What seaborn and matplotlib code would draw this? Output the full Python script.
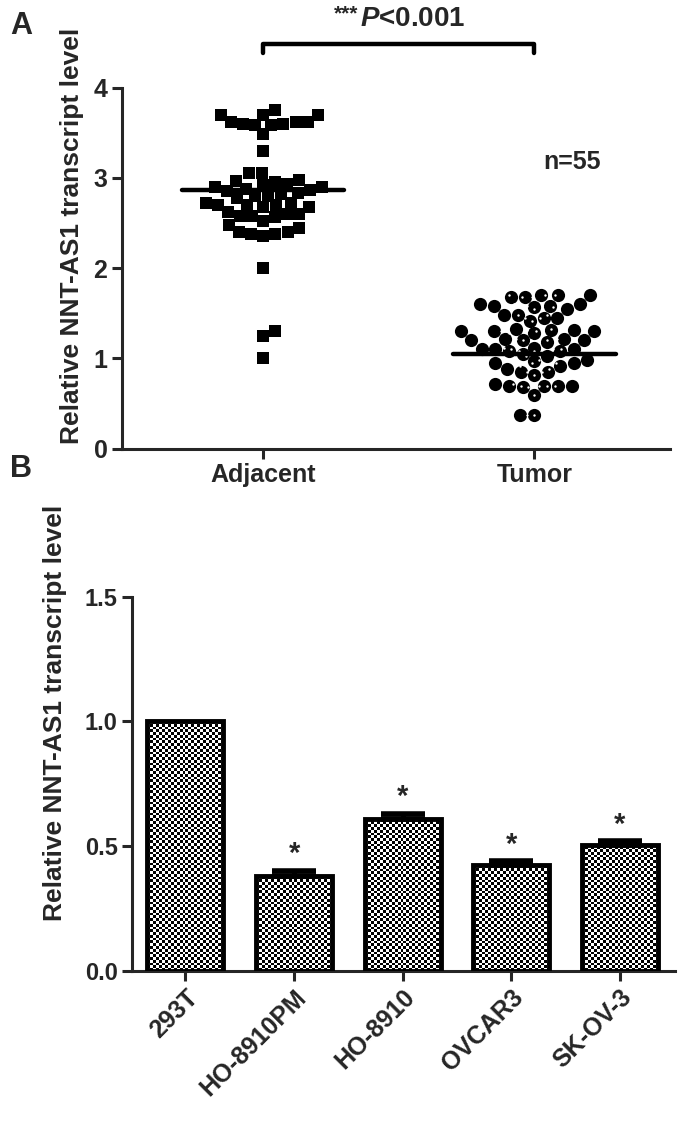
import numpy as np
import pandas as pd
import matplotlib
matplotlib.use("Agg")
import matplotlib.pyplot as plt
import seaborn as sns

# panel A: NNT-AS1 levels in tissue pairs (n=55 each)
adjacent = [3.75, 3.70, 3.70, 3.70, 3.62, 3.60, 3.58, 3.62, 3.58, 3.60, 3.62, 3.48, 3.30,
            3.05, 3.05, 2.98, 2.96, 2.95, 2.93, 2.92, 2.90, 2.90, 2.88, 2.87, 2.85, 2.83,
            2.82, 2.80, 2.80, 2.78, 2.72, 2.70, 2.70, 2.68, 2.70, 2.72, 2.68,
            2.60, 2.58, 2.60, 2.57, 2.62, 2.58, 2.48, 2.45, 2.40, 2.38, 2.40, 2.38, 2.36,
            2.00, 1.30, 1.25, 1.00, 2.52]
tumor = [1.70, 1.70, 1.68, 1.70, 1.68,
         1.58, 1.57, 1.60, 1.58, 1.55, 1.60,
         1.45, 1.48, 1.45, 1.48, 1.42,
         1.32, 1.30, 1.32, 1.30, 1.30, 1.28, 1.33,
         1.20, 1.22, 1.20, 1.18, 1.22, 1.20,
         1.10, 1.08, 1.12, 1.10, 1.05, 1.08, 1.03, 1.10,
         0.97, 0.95, 0.92, 0.95, 0.98,
         0.85, 0.88, 0.85, 0.82,
         0.72, 0.70, 0.70, 0.70, 0.70, 0.68,
         0.60, 0.37, 0.37]
groups = ["Adjacent", "Tumor"]
center_lines = [2.87, 1.05]

# panel B: cell lines
cell_lines = ["293T", "HO-8910PM", "HO-8910", "OVCAR3", "SK-OV-3"]
rel_level = [1.00, 0.38, 0.61, 0.425, 0.505]
sem = [0.0, 0.02, 0.02, 0.015, 0.015]
signif = ["", "*", "*", "*", "*"]

sns.set_style("ticks")
plt.rcParams["font.family"] = ["Liberation Sans", "DejaVu Sans"]
plt.rcParams["font.weight"] = "bold"
plt.rcParams["mathtext.fontset"] = "custom"
plt.rcParams["mathtext.rm"] = "Liberation Sans:bold"
plt.rcParams["mathtext.it"] = "Liberation Sans:italic:bold"
plt.rcParams["axes.linewidth"] = 2.2

fig = plt.figure(figsize=(6.78, 11.22), dpi=100)
axA = fig.add_axes([0.180, 0.600, 0.808, 0.322])
axB = fig.add_axes([0.195, 0.135, 0.801, 0.333])

# ---- panel A ----
dfA = pd.DataFrame({"grp": ["Adjacent"] * len(adjacent) + ["Tumor"] * len(tumor),
                    "val": adjacent + tumor})
for g, m, sz in zip(groups, ["s", "o"], [8.5, 9.5]):
    sub = dfA[dfA["grp"] == g]
    sns.swarmplot(data=sub, x="grp", y="val", order=groups, marker=m, size=sz,
                  color="black", linewidth=0, ax=axA, warn_thresh=1)
    pts = axA.collections[-1].get_offsets()
    axA.scatter(pts[:, 0], pts[:, 1], s=3, color="white", zorder=5, linewidths=0)

for i, v in enumerate(center_lines):
    axA.plot([i - 0.3, i + 0.3], [v, v], color="black", lw=3.2, zorder=6,
             solid_capstyle="round")

axA.set_xlim(-0.52, 1.5)
axA.set_ylim(0, 4)
axA.set_yticks([0, 1, 2, 3, 4])
axA.set_xlabel("")
axA.set_ylabel("Relative NNT-AS1 transcript level", fontsize=19, fontweight="bold")
axA.yaxis.set_label_coords(-0.07, 0.59)
axA.tick_params(axis="both", labelsize=18, width=2.2, length=7)
sns.despine(ax=axA)

# significance bracket
axA.plot([0, 0, 1, 1], [4.38, 4.48, 4.48, 4.38], color="black", lw=3.2, clip_on=False,
         solid_joinstyle="round")
ptxt = axA.text(0.55, 4.62, r"$\mathit{P}$<0.001", ha="center", va="bottom",
                fontsize=20, fontweight="bold")
fig.canvas.draw()
bb = ptxt.get_window_extent().transformed(fig.transFigure.inverted())
fig.text(bb.x0 - 0.002, bb.y1 + 0.001, "***", ha="right", va="top", fontsize=15,
         fontweight="bold")
axA.text(1.14, 3.18, "n=55", ha="center", va="center", fontsize=18, fontweight="bold")

# ---- panel B ----
dfB = pd.DataFrame({"cell": cell_lines, "level": rel_level})
sns.barplot(data=dfB, x="cell", y="level", order=cell_lines, color="white",
            edgecolor="black", linewidth=3.5, width=0.7, ax=axB, zorder=3)
xs = np.arange(len(cell_lines))
axB.errorbar(xs[1:], rel_level[1:], yerr=[np.zeros(4), sem[1:]], fmt="none",
             ecolor="black", elinewidth=3.5, capsize=16, capthick=4, zorder=4)

# checker pattern inside the bars
yy, xx = np.indices((90, 26))
checker = ((yy + xx) % 2).astype(float)
for p in list(axB.patches):
    p.set_facecolor("none")
    x0 = p.get_x()
    im = axB.imshow(checker, cmap="gray", vmin=0, vmax=1, interpolation="nearest",
                    extent=[x0, x0 + p.get_width(), 0, 1.0], aspect="auto", zorder=2.5)
    im.set_clip_path(p)

for x, v, e, s in zip(xs, rel_level, sem, signif):
    if s:
        axB.text(x, v + e + 0.01, s, ha="center", va="bottom", fontsize=21,
                 fontweight="bold")

axB.set_xlim(-0.49, 4.51)
axB.set_ylim(0, 1.5)
axB.set_yticks([0.0, 0.5, 1.0, 1.5])
axB.set_yticklabels(["0.0", "0.5", "1.0", "1.5"])
axB.set_xlabel("")
axB.set_ylabel("Relative NNT-AS1 transcript level", fontsize=19, fontweight="bold")
axB.yaxis.set_label_coords(-0.12, 0.69)
axB.tick_params(axis="y", labelsize=17, width=2.2, length=7)
axB.tick_params(axis="x", labelsize=18, width=2.2, length=7)
plt.setp(axB.get_xticklabels(), rotation=45, ha="right", rotation_mode="anchor")
sns.despine(ax=axB)

fig.text(0.015, 0.990, "A", fontsize=22, fontweight="bold", va="top")
fig.text(0.015, 0.595, "B", fontsize=22, fontweight="bold", va="top")

fig.savefig("out.png", dpi=100)
